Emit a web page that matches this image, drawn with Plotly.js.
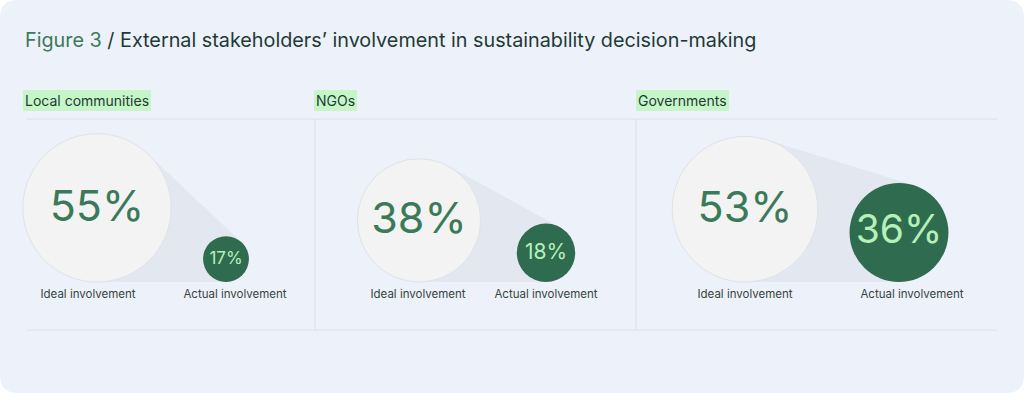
<!DOCTYPE html>
<html>
<head>
<meta charset="utf-8">
<script src="https://cdn.plot.ly/plotly-3.0.1.min.js"></script>
<style>
  html, body { margin: 0; padding: 0; background: #ffffff; }
  #chart { width: 1024px; height: 393px; }
</style>
</head>
<body>
<div id="chart"></div>
<script>
// ---------- data ----------
const categories = ['Local communities', 'NGOs', 'Governments'];
const idealValues = [55, 38, 53];
const actualValues = [17, 18, 36];
const seriesLabels = ['Ideal involvement', 'Actual involvement'];
const titlePrefix = 'Figure 3';
const titleText = '/ External stakeholders\u2019 involvement in sustainability decision-making';

// ---------- layout constants (pixel space, y down) ----------
const W = 1024, H = 393;
const bigX = [97, 419, 745];
const smallX = [226, 546, 899];
const baseY = 282;
const radiusK = 10;            // big radius = K * sqrt(value)
const catLabelX = [23, 314, 636];
const seriesLabelX = [[88, 235], [418, 546], [745, 912]];
const seriesLabelY = 295;
const bigFont = [43, 43, 43];
const smallFont = [17, 21, 39];

const C = {
  bg: '#edf1f9', line: '#dce1ea', cone: '#e3e7f0',
  bigFill: '#f3f3f3', bigLine: '#dfe2e7',
  dark: '#2f6b4f', light: '#b6f0b9',
  text: '#1f3a36', green: '#3b7a58', label: '#354541', hl: '#c6f6c8'
};
const FONT = 'Inter, "Noto Sans", sans-serif';

// ---------- geometry ----------
const bigR = idealValues.map(v => radiusK * Math.sqrt(v));
const smallR = actualValues.map((v, i) => bigR[i] * v / idealValues[i]);

function upperTangent(x1, y1, r1, x2, y2, r2) {
  const dx = x2 - x1, dy = y2 - y1, d = Math.hypot(dx, dy);
  const phi = Math.atan2(dy, dx);
  const a = Math.acos((r2 - r1) / d);
  let best = null;
  [phi + a, phi - a].forEach(th => {
    const nx = Math.cos(th), ny = Math.sin(th);
    const t1 = [x1 - r1 * nx, y1 - r1 * ny];
    const t2 = [x2 - r2 * nx, y2 - r2 * ny];
    if (!best || t1[1] + t2[1] < best[0][1] + best[1][1]) best = [t1, t2];
  });
  return best;
}

const shapes = [];
// rounded background panel
const rr = 18;
shapes.push({
  type: 'path', xref: 'x', yref: 'y', layer: 'below',
  path: `M ${rr} 0 L ${W - rr} 0 Q ${W} 0 ${W} ${rr} L ${W} ${H - rr} Q ${W} ${H} ${W - rr} ${H} L ${rr} ${H} Q 0 ${H} 0 ${H - rr} L 0 ${rr} Q 0 0 ${rr} 0 Z`,
  fillcolor: C.bg, line: { width: 0 }
});
// grid lines
shapes.push({ type: 'line', xref: 'x', yref: 'y', layer: 'below', x0: 27, x1: 997, y0: 119, y1: 119, line: { color: C.line, width: 1 } });
shapes.push({ type: 'line', xref: 'x', yref: 'y', layer: 'below', x0: 27, x1: 997, y0: 330, y1: 330, line: { color: C.line, width: 1 } });
[315, 636].forEach(x => shapes.push({ type: 'line', xref: 'x', yref: 'y', layer: 'below', x0: x, x1: x, y0: 119, y1: 330, line: { color: C.line, width: 1 } }));

// cones between circles
categories.forEach((c, i) => {
  const y1 = baseY - bigR[i], y2 = baseY - smallR[i];
  const [t1, t2] = upperTangent(bigX[i], y1, bigR[i], smallX[i], y2, smallR[i]);
  shapes.push({
    type: 'path', xref: 'x', yref: 'y', layer: 'below',
    path: `M ${t1[0]} ${t1[1]} L ${t2[0]} ${t2[1]} L ${smallX[i]} ${baseY} L ${bigX[i]} ${baseY} Z`,
    fillcolor: C.cone, line: { width: 0 }
  });
});

const traces = [];
// big circles
traces.push({
  type: 'scatter', mode: 'markers',
  x: bigX, y: bigR.map(r => baseY - r),
  marker: { size: bigR.map(r => 2 * r), sizemode: 'diameter', color: C.bigFill, line: { color: C.bigLine, width: 1 }, opacity: 1 },
  hoverinfo: 'skip', showlegend: false, cliponaxis: false
});
traces.push({
  type: 'scatter', mode: 'text',
  x: bigX, y: bigR.map(r => baseY - r + 2),
  text: idealValues.map(v => v + '%'), textposition: 'middle center',
  textfont: { family: FONT, size: bigFont, color: C.green },
  hoverinfo: 'skip', showlegend: false, cliponaxis: false
});
// small circles
traces.push({
  type: 'scatter', mode: 'markers',
  x: smallX, y: smallR.map(r => baseY - r),
  marker: { size: smallR.map(r => 2 * r), sizemode: 'diameter', color: C.dark, line: { width: 0 }, opacity: 1 },
  hoverinfo: 'skip', showlegend: false, cliponaxis: false
});
traces.push({
  type: 'scatter', mode: 'text',
  x: smallX, y: smallR.map(r => baseY - r + 1),
  text: actualValues.map(v => v + '%'), textposition: 'middle center',
  textfont: { family: FONT, size: smallFont, color: C.light },
  hoverinfo: 'skip', showlegend: false, cliponaxis: false
});
// series labels
const lx = [], ly = [], lt = [];
categories.forEach((c, i) => {
  seriesLabels.forEach((s, j) => { lx.push(seriesLabelX[i][j]); ly.push(seriesLabelY); lt.push(s); });
});
traces.push({
  type: 'scatter', mode: 'text', x: lx, y: ly, text: lt, textposition: 'middle center',
  textfont: { family: FONT, size: 11.5, color: C.label },
  hoverinfo: 'skip', showlegend: false, cliponaxis: false
});

const annotations = [];
annotations.push({
  xref: 'x', yref: 'y', x: 23, y: 40, xanchor: 'left', yanchor: 'middle', showarrow: false,
  text: `<span style="color:${C.green}">${titlePrefix}</span> ${titleText}`,
  font: { family: FONT, size: 19.8, color: C.text }
});
categories.forEach((c, i) => annotations.push({
  xref: 'x', yref: 'y', x: catLabelX[i], y: 100, xanchor: 'left', yanchor: 'middle', showarrow: false,
  text: c, bgcolor: C.hl, borderpad: 2, borderwidth: 0,
  font: { family: FONT, size: 14, color: C.text }
}));

const layout = {
  width: W, height: H,
  margin: { l: 0, r: 0, t: 0, b: 0, pad: 0 },
  paper_bgcolor: '#ffffff', plot_bgcolor: 'rgba(0,0,0,0)',
  xaxis: { range: [0, W], visible: false, fixedrange: true },
  yaxis: { range: [H, 0], visible: false, fixedrange: true },
  shapes, annotations, hovermode: false, showlegend: false
};

Plotly.newPlot('chart', traces, layout, { displayModeBar: false, staticPlot: true });
</script>
</body>
</html>
